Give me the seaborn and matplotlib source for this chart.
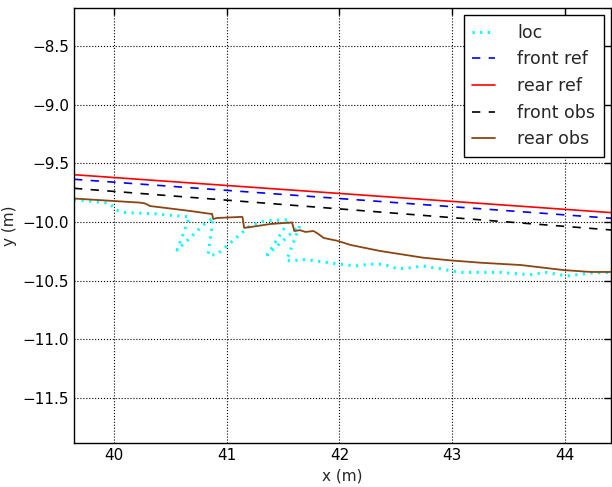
import numpy as np
import pandas as pd
import matplotlib
matplotlib.use("Agg")
import matplotlib.pyplot as plt
import seaborn as sns

# ---- data ----
loc_x = [39.645, 39.96, 40.02, 40.10, 40.36, 40.67, 40.56, 40.81, 40.88, 40.835, 40.91,
         41.21, 41.34, 41.56, 41.36, 41.65, 41.53, 41.58, 41.70, 41.85, 42.01, 42.14,
         42.27, 42.39, 42.52, 42.63, 42.74, 42.90, 43.07, 43.43, 43.69, 43.83, 44.02,
         44.23, 44.41]
loc_y = [-9.81, -9.84, -9.90, -9.92, -9.93, -9.957, -10.24, -10.01, -9.966, -10.28, -10.28,
         -10.03, -9.99, -9.98, -10.28, -10.03, -10.33, -10.33, -10.32, -10.34, -10.36, -10.375,
         -10.36, -10.36, -10.40, -10.39, -10.375, -10.40, -10.43, -10.43, -10.45, -10.43, -10.46,
         -10.435, -10.43]

ref_x = [39.645, 44.41]
front_ref_y = [-9.636, -9.968]
rear_ref_y = [-9.597, -9.920]
front_obs_y = [-9.713, -10.068]

rear_obs_x = [39.645, 40.23, 40.275, 40.32, 40.675, 40.85, 40.87, 40.88, 40.915, 41.12,
              41.14, 41.155, 41.21, 41.39, 41.58, 41.60, 41.65, 41.70, 41.77, 41.81,
              41.86, 41.98, 42.10, 42.36, 42.74, 42.98, 43.25, 43.61, 43.99, 44.23, 44.41]
rear_obs_y = [-9.80, -9.835, -9.842, -9.864, -9.906, -9.93, -9.93, -9.975, -9.966, -9.957,
              -9.957, -10.05, -10.043, -10.017, -10.004, -10.077, -10.07, -10.085, -10.077, -10.10,
              -10.136, -10.16, -10.196, -10.247, -10.304, -10.327, -10.347, -10.367, -10.41, -10.426, -10.426]

sns.set_style("white")
plt.rcParams['font.family'] = ['DejaVu Sans']
plt.rcParams['xtick.direction'] = 'in'
plt.rcParams['ytick.direction'] = 'in'

fig = plt.figure(figsize=(6.12, 4.87), dpi=100)
ax = fig.add_axes([74/612, 1-443/487, (611-74)/612, (443-8)/487])

sns.lineplot(x=loc_x, y=loc_y, ax=ax, sort=False, estimator=None, color='cyan',
             linewidth=2.2, label='loc')
ax.lines[-1].set_linestyle((0, (0.7, 1.8)))
ax.lines[-1].set_dash_capstyle('butt')
sns.lineplot(x=ref_x, y=front_ref_y, ax=ax, sort=False, estimator=None, color='blue',
             linewidth=1.2, label='front ref')
ax.lines[-1].set_linestyle((0, (5, 5)))
sns.lineplot(x=ref_x, y=rear_ref_y, ax=ax, sort=False, estimator=None, color='red',
             linewidth=1.2, label='rear ref')
sns.lineplot(x=ref_x, y=front_obs_y, ax=ax, sort=False, estimator=None, color='black',
             linewidth=1.2, label='front obs')
ax.lines[-1].set_linestyle((0, (5, 5)))
sns.lineplot(x=rear_obs_x, y=rear_obs_y, ax=ax, sort=False, estimator=None, color='#8B4513',
             linewidth=1.3, label='rear obs')

ax.set_xlim(39.645, 44.41)
ax.set_ylim(-11.884, -8.176)
ax.set_xticks([40, 41, 42, 43, 44])
ax.set_yticks([-8.5, -9.0, -9.5, -10.0, -10.5, -11.0, -11.5])
ax.grid(True, color='black', linestyle=':', linewidth=0.8)
ax.tick_params(axis='both', which='both', direction='in', top=True, right=True,
               length=5, width=1, labelsize=11, colors='black')
for s in ax.spines.values():
    s.set_visible(True)
    s.set_color('black')
    s.set_linewidth(1.0)
ax.set_xlabel('x (m)', fontsize=11)
ax.set_ylabel('y (m)', fontsize=11)

leg = ax.legend(loc='upper right', fontsize=12.5, frameon=True, fancybox=False,
                edgecolor='black', framealpha=1, borderaxespad=0.4, handlelength=1.3,
                handletextpad=1.3, labelspacing=0.5, borderpad=0.5)
leg.get_frame().set_linewidth(1.0)

fig.savefig('out.png', dpi=100)
